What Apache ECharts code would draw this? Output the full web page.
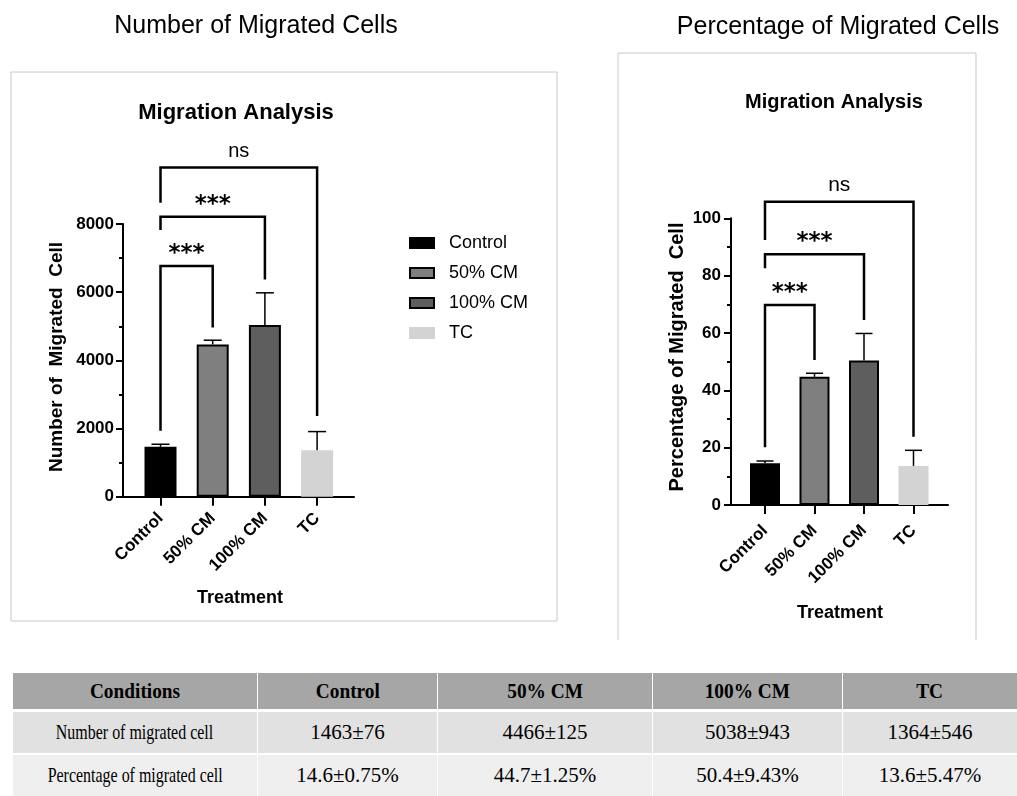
<!DOCTYPE html>
<html>
<head>
<meta charset="utf-8">
<script src="https://cdn.jsdelivr.net/npm/echarts@6/dist/echarts.min.js"></script>
<style>
body { margin: 0; background: #fff; }
#main { position: absolute; left: 0; top: 0; width: 1017px; height: 665px; }
#tbl { position: absolute; left: 12px; top: 673px; width: 1005px; border-collapse: collapse; table-layout: fixed;
       font-family: 'Liberation Serif', 'Times New Roman', serif; color: #000; }
#tbl td, #tbl th { text-align: center; border-left: 1px solid #fff; border-right: 1px solid #fff; padding: 0; white-space: nowrap; }
#tbl th { background: #a6a6a6; font-size: 21px; font-weight: bold; height: 36px; border-bottom: 3px solid #fff; }
#tbl tr.r1 td { background: #e1e1e1; height: 41px; border-bottom: 2px solid #fff; }
#tbl tr.r2 td { background: #efefef; height: 41px; }
#tbl td { font-size: 21px; }
#tbl span { display: inline-block; }
#tbl th span { transform: scaleX(0.92); }
#tbl td.lab span { font-size: 21px; transform: scaleX(0.76); }
</style>
</head>
<body>
<div id="main"></div>
<table id="tbl"></table>
<script>
// data
var categories = ['Control', '50% CM', '100% CM', 'TC'];
var countMean = [1463, 4466, 5038, 1364];
var countErr = [76, 125, 943, 546];
var pctMean = [14.6, 44.7, 50.4, 13.6];
var pctErr = [0.75, 1.25, 9.43, 5.47];
// brackets: [from, to, top, left leg end, right leg end]
var countBrackets = [[0, 1, 6770, 1935, 4967], [0, 2, 8211, 7821, 6375], [0, 3, 9660, 8620, 2370]];
var pctBrackets = [[0, 1, 69.8, 20.1, 50.6], [0, 2, 87.5, 82.6, 64.5], [0, 3, 105.8, 92.4, 23.8]];
var bracketLabels = ['***', '***', 'ns'];
var rowLabels = ['Number of migrated cell', 'Percentage of migrated cell'];

// styles
var barColors = ['#000000', '#7f7f7f', '#5e5e5e', '#d3d3d3'];
var sans = '"Liberation Sans", Arial, sans-serif';

// table
var tbl = document.getElementById('tbl');
var html = '<colgroup><col style="width:245px"><col style="width:180px"><col style="width:215px"><col style="width:190px"><col style="width:175px"></colgroup>';
html += '<tr><th><span>Conditions</span></th>' + categories.map(function (c) { return '<th><span>' + c + '</span></th>'; }).join('') + '</tr>';
html += '<tr class="r1"><td class="lab"><span>' + rowLabels[0] + '</span></td>' + countMean.map(function (v, i) {
    return '<td>' + v + '\u00b1' + countErr[i] + '</td>';
}).join('') + '</tr>';
html += '<tr class="r2"><td class="lab"><span>' + rowLabels[1] + '</span></td>' + pctMean.map(function (v, i) {
    return '<td>' + v.toFixed(1) + '\u00b1' + pctErr[i].toFixed(2) + '%</td>';
}).join('') + '</tr>';
tbl.innerHTML = html;

var myChart = echarts.init(document.getElementById('main'));

function barSeries(means, xi, yi, width) {
    return categories.map(function (name, i) {
        return {
            name: name,
            type: 'bar',
            xAxisIndex: xi,
            yAxisIndex: yi,
            barWidth: width,
            barGap: '-100%',
            data: means.map(function (v, j) { return j === i ? v : '-'; }),
            itemStyle: {
                color: barColors[i],
                borderColor: i === 3 ? barColors[i] : '#000',
                borderWidth: 2
            }
        };
    });
}

function errSeries(means, errs, xi, yi, half) {
    return {
        type: 'custom',
        xAxisIndex: xi,
        yAxisIndex: yi,
        z: 3,
        data: means.map(function (v, i) { return [i, v, errs[i]]; }),
        renderItem: function (params, api) {
            var x = api.value(0), m = api.value(1), e = api.value(2);
            var p0 = api.coord([x, m]);
            var p1 = api.coord([x, m + e]);
            var st = { stroke: '#000', lineWidth: 1.5 };
            return {
                type: 'group',
                children: [
                    { type: 'line', shape: { x1: p0[0], y1: p0[1], x2: p1[0], y2: p1[1] }, style: st },
                    { type: 'line', shape: { x1: p1[0] - half, y1: p1[1], x2: p1[0] + half, y2: p1[1] }, style: st }
                ]
            };
        }
    };
}

function bracketSeries(brackets, xi, yi, starSize, nsSize) {
    return {
        type: 'custom',
        xAxisIndex: xi,
        yAxisIndex: yi,
        z: 4,
        data: brackets,
        renderItem: function (params, api) {
            var x1 = api.value(0), x2 = api.value(1);
            var a = api.coord([x1, api.value(2)]);
            var b = api.coord([x2, api.value(2)]);
            var la = api.coord([x1, api.value(3)]);
            var rb = api.coord([x2, api.value(4)]);
            var lab = bracketLabels[params.dataIndex];
            var isNs = lab === 'ns';
            return {
                type: 'group',
                children: [
                    { type: 'polyline', shape: { points: [la, a, b, rb] },
                      style: { stroke: '#000', lineWidth: 2.5, fill: 'none' } },
                    { type: 'text', x: (a[0] + b[0]) / 2, y: a[1] - (isNs ? 16 : 12),
                      style: { text: lab, fill: '#000', align: 'center', verticalAlign: 'middle',
                               font: isNs ? nsSize + 'px ' + sans : 'bold ' + starSize + 'px "DejaVu Sans", sans-serif' } }
                ]
            };
        }
    };
}

function lineAxis(grid) {
    return {
        gridIndex: grid, type: 'value', min: 0, max: 1,
        axisLine: { show: true, lineStyle: { color: '#000', width: 2 } },
        axisTick: { show: false }, axisLabel: { show: false }, splitLine: { show: false }
    };
}

function catAxis(grid, fs, margin) {
    return {
        gridIndex: grid, type: 'category', data: categories,
        axisLine: { show: false },
        axisTick: { show: true, alignWithLabel: true, length: 9, lineStyle: { color: '#000', width: 2 } },
        axisLabel: { rotate: 45, margin: margin, color: '#000', fontWeight: 'bold', fontSize: fs, fontFamily: sans, interval: 0 },
        splitLine: { show: false }
    };
}

function valAxis(grid, max, step, fs, margin) {
    return {
        gridIndex: grid, type: 'value', min: 0, max: max, interval: step,
        axisLine: { show: true, lineStyle: { color: '#000', width: 2 } },
        axisTick: { show: true, length: 7, lineStyle: { color: '#000', width: 2 } },
        minorTick: { show: true, splitNumber: 2, length: 4, lineStyle: { color: '#000', width: 2 } },
        axisLabel: { color: '#000', fontWeight: 'bold', fontSize: fs, fontFamily: sans, margin: margin,
                     formatter: function (v) { return String(v); } },
        splitLine: { show: false }
    };
}

function text(x, y, str, font, rot) {
    return { type: 'text', x: x, y: y, rotation: rot || 0, silent: true,
             style: { text: str, font: font, fill: '#000', align: 'center', verticalAlign: 'middle' } };
}

var option = {
    animation: false,
    grid: [
        { left: 123, top: 224, width: 231, height: 272.7 },
        { left: 134.4, top: 224, width: 208.8, height: 272.7 },
        { left: 731, top: 218.3, width: 217, height: 286.7 },
        { left: 740.25, top: 218.3, width: 198, height: 286.7 }
    ],
    legend: {
        data: categories,
        orient: 'vertical',
        left: 404,
        top: 229,
        itemWidth: 24,
        itemHeight: 10,
        itemGap: 12,
        icon: 'rect',
        selectedMode: false,
        textStyle: { fontSize: 18, fontFamily: sans, color: '#000', padding: [0, 0, 0, 10] }
    },
    xAxis: [lineAxis(0), catAxis(1, 17, 19), lineAxis(2), catAxis(3, 17, 23)],
    yAxis: [
        valAxis(0, 8000, 2000, 17, 9),
        { gridIndex: 1, type: 'value', min: 0, max: 8000, show: false },
        valAxis(2, 100, 20, 17, 10),
        { gridIndex: 3, type: 'value', min: 0, max: 100, show: false }
    ],
    graphic: [
        { type: 'rect', silent: true, shape: { x: 11, y: 72, width: 546, height: 549 },
          style: { fill: 'none', stroke: '#c8c8c8', lineWidth: 1 } },
        { type: 'polyline', silent: true, shape: { points: [[618, 640], [618, 53], [976, 53], [976, 640]] },
          style: { fill: 'none', stroke: '#c8c8c8', lineWidth: 1 } },
        text(256, 26, 'Number of Migrated Cells', '25px ' + sans),
        text(838, 27, 'Percentage of Migrated Cells', '25px ' + sans),
        text(236, 113, 'Migration Analysis', 'bold 22px ' + sans),
        text(834, 102, 'Migration Analysis', 'bold 20px ' + sans),
        text(57, 357, 'Number of  Migrated  Cell', 'bold 19px ' + sans, Math.PI / 2),
        text(677, 357, 'Percentage of Migrated  Cell', 'bold 20px ' + sans, Math.PI / 2),
        text(240, 598, 'Treatment', 'bold 18px ' + sans),
        text(840, 613, 'Treatment', 'bold 18px ' + sans)
    ],
    series: [].concat(
        barSeries(countMean, 1, 1, 32),
        [errSeries(countMean, countErr, 1, 1, 9), bracketSeries(countBrackets, 1, 1, 23, 20)],
        barSeries(pctMean, 3, 3, 30),
        [errSeries(pctMean, pctErr, 3, 3, 8.5), bracketSeries(pctBrackets, 3, 3, 23, 21)]
    )
};

myChart.setOption(option);
</script>
</body>
</html>
